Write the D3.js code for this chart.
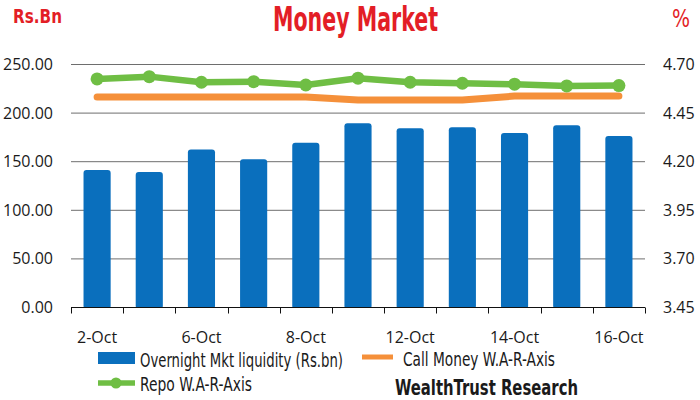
<!DOCTYPE html>
<html>
<head>
<meta charset="utf-8">
<script src="https://cdn.jsdelivr.net/npm/d3@7"></script>
<style>
  body { margin: 0; background: #fff; }
  svg { display: block; }
  .narrow { font-family: "Liberation Sans Narrow", "DejaVu Sans Condensed", sans-serif; }
  .tick-lbl { font-family: "Open Sans", sans-serif; font-size: 16px; fill: #1a1a1a; }
</style>
</head>
<body>
<div id="chart"></div>
<script>
// data
var dates = ["2-Oct", "5-Oct", "6-Oct", "7-Oct", "8-Oct", "9-Oct",
             "12-Oct", "13-Oct", "14-Oct", "15-Oct", "16-Oct"];
var liquidity = [141, 139, 162, 152, 169, 189, 184, 185, 179, 187, 176]; // Rs.bn
var repoWAR = [4.623, 4.635, 4.606, 4.609, 4.592, 4.627, 4.606, 4.601, 4.596, 4.587, 4.589];
var callWAR = [4.530, 4.530, 4.530, 4.530, 4.530, 4.515, 4.515, 4.515, 4.535, 4.535, 4.535];
var leftTicks = [0, 50, 100, 150, 200, 250];
var rightTicks = [3.45, 3.70, 3.95, 4.20, 4.45, 4.70];
var shownDates = ["2-Oct", "6-Oct", "8-Oct", "12-Oct", "14-Oct", "16-Oct"];

var width = 700, height = 400;
var blue = "#0a6fbd", green = "#6fbe44", orange = "#f5903a", red = "#e31e26";

var svg = d3.select("#chart").append("svg")
    .attr("width", width).attr("height", height);

var x = d3.scaleBand().domain(dates).range([71, 645])
    .paddingInner(0.48).paddingOuter(0.24);
var yL = d3.scaleLinear().domain([0, 250]).range([307, 64]);
var yR = d3.scaleLinear().domain([3.45, 4.70]).range([307, 64]);

// gridlines
svg.append("g").selectAll("line")
    .data(leftTicks.slice(1))
    .enter().append("line")
    .attr("x1", 71).attr("x2", 645)
    .attr("y1", function(d) { return yL(d) + 0.5 })
    .attr("y2", function(d) { return yL(d) + 0.5 })
    .attr("stroke", "#6e6e6e").attr("stroke-width", 1);

// bars
svg.append("g").selectAll("rect")
    .data(liquidity)
    .enter().append("rect")
    .attr("x", function(d, i) { return x(dates[i]) })
    .attr("width", x.bandwidth())
    .attr("y", function(d) { return yL(d) })
    .attr("height", function(d) { return yL(0) - yL(d) + 2 })
    .attr("rx", 3)
    .attr("fill", blue);

// cover the rounded bottom corners with the axis area
svg.append("rect").attr("x", 60).attr("y", 307.5).attr("width", 600).attr("height", 5).attr("fill", "#fff");

// bottom axis
var xAxis = d3.axisBottom(x).tickSize(0).tickFormat("");
var gx = svg.append("g").attr("transform", "translate(0,307.5)").call(xAxis);
gx.select(".domain").attr("stroke", "#111").attr("d", "M71,0H645");
var bounds = dates.map(function(d) { return x(d) - x.step() * x.paddingInner() / 2 });
bounds.push(645);
bounds[0] = 71;
gx.selectAll("line.bt").data(bounds).enter().append("line")
    .attr("class", "bt")
    .attr("x1", function(d) { return Math.round(d) + 0.5 })
    .attr("x2", function(d) { return Math.round(d) + 0.5 })
    .attr("y1", 0).attr("y2", 6)
    .attr("stroke", "#111");

svg.append("g").selectAll("text")
    .data(shownDates)
    .enter().append("text")
    .attr("class", "tick-lbl")
    .attr("x", function(d) { return x(d) + x.bandwidth() / 2 })
    .attr("y", 343)
    .attr("text-anchor", "middle")
    .text(function(d) { return d });

// left & right tick labels
svg.append("g").selectAll("text")
    .data(leftTicks)
    .enter().append("text")
    .attr("class", "tick-lbl")
    .attr("x", 53).attr("y", function(d) { return yL(d) + 6 })
    .attr("text-anchor", "end")
    .text(d3.format(".2f"));

svg.append("g").selectAll("text")
    .data(rightTicks)
    .enter().append("text")
    .attr("class", "tick-lbl")
    .attr("x", 663).attr("y", function(d) { return yR(d) + 6 })
    .text(d3.format(".2f"));

// call money line
var callLine = d3.line()
    .x(function(d, i) { return x(dates[i]) + x.bandwidth() / 2 })
    .y(function(d) { return yR(d) });
svg.append("path").datum(callWAR)
    .attr("d", callLine)
    .attr("fill", "none").attr("stroke", orange)
    .attr("stroke-width", 7).attr("stroke-linecap", "round").attr("stroke-linejoin", "round");

// repo line + markers
svg.append("path").datum(repoWAR)
    .attr("d", callLine)
    .attr("fill", "none").attr("stroke", green)
    .attr("stroke-width", 6.5).attr("stroke-linejoin", "round");
svg.append("g").selectAll("circle")
    .data(repoWAR)
    .enter().append("circle")
    .attr("cx", function(d, i) { return x(dates[i]) + x.bandwidth() / 2 })
    .attr("cy", function(d) { return yR(d) })
    .attr("r", 6.5)
    .attr("fill", green);

// titles
svg.append("text").attr("class", "narrow")
    .attr("x", 273).attr("y", 31)
    .attr("textLength", 165).attr("lengthAdjust", "spacingAndGlyphs")
    .style("font-size", "33px").style("font-weight", "bold").attr("fill", red)
    .text("Money Market");
svg.append("text").attr("class", "narrow")
    .attr("x", 13).attr("y", 23)
    .attr("textLength", 49).attr("lengthAdjust", "spacingAndGlyphs")
    .style("font-size", "20px").style("font-weight", "bold").attr("fill", red)
    .text("Rs.Bn");
svg.append("text").attr("class", "narrow")
    .attr("x", 672).attr("y", 27)
    .attr("textLength", 18).attr("lengthAdjust", "spacingAndGlyphs")
    .style("font-size", "25px").attr("fill", red)
    .text("%");

// legend
var lg = svg.append("g");
lg.append("rect").attr("x", 98).attr("y", 352).attr("width", 37).attr("height", 12).attr("fill", blue);
lg.append("text").attr("class", "narrow")
    .attr("x", 140).attr("y", 367)
    .attr("textLength", 203).attr("lengthAdjust", "spacingAndGlyphs")
    .style("font-size", "19px").attr("fill", "#1a1a1a")
    .text("Overnight Mkt liquidity (Rs.bn)");

lg.append("line").attr("x1", 362).attr("x2", 393).attr("y1", 357).attr("y2", 357)
    .attr("stroke", orange).attr("stroke-width", 5);
lg.append("text").attr("class", "narrow")
    .attr("x", 403).attr("y", 366)
    .attr("textLength", 152).attr("lengthAdjust", "spacingAndGlyphs")
    .style("font-size", "19px").attr("fill", "#1a1a1a")
    .text("Call Money W.A-R-Axis");

lg.append("line").attr("x1", 98).attr("x2", 135).attr("y1", 383).attr("y2", 383)
    .attr("stroke", green).attr("stroke-width", 5.5);
lg.append("circle").attr("cx", 116).attr("cy", 383).attr("r", 5.5).attr("fill", green);
lg.append("text").attr("class", "narrow")
    .attr("x", 140).attr("y", 391)
    .attr("textLength", 112).attr("lengthAdjust", "spacingAndGlyphs")
    .style("font-size", "19px").attr("fill", "#1a1a1a")
    .text("Repo W.A-R-Axis");

lg.append("text").attr("class", "narrow")
    .attr("x", 395).attr("y", 395)
    .attr("textLength", 183).attr("lengthAdjust", "spacingAndGlyphs")
    .style("font-size", "22px").style("font-weight", "bold").attr("fill", "#1a1a1a")
    .text("WealthTrust Research");
</script>
</body>
</html>
